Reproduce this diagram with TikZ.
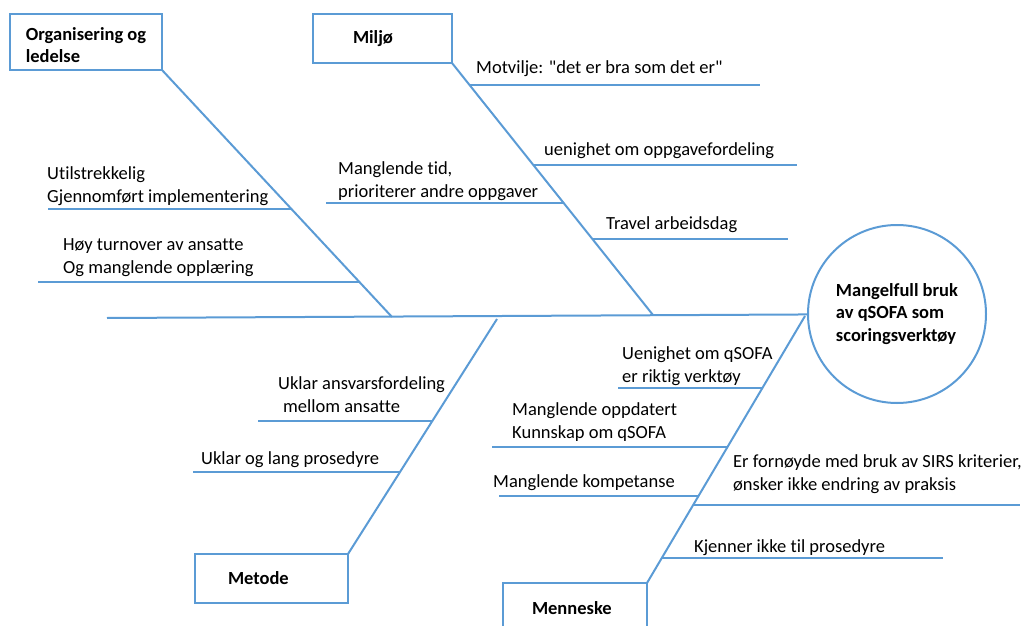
\documentclass[tikz,border=0pt]{standalone}
\usepackage{fontspec}
\setmainfont{Carlito}[Ligatures={TeXOff,CommonOff}]
\usetikzlibrary{calc}

\definecolor{fishblue}{RGB}{91,155,213}

\tikzset{
  bone/.style = {draw=fishblue, line width=2pt},
  catbox/.style = {draw=fishblue, line width=2pt, outer sep=0pt,
    font=\fontsize{18.5}{22.5}\selectfont\bfseries, align=left,
    anchor=north west, inner ysep=0pt},
  cause/.style = {font=\fontsize{18.5}{22.5}\selectfont, align=left,
    anchor=base west, inner sep=0pt}
}

\begin{document}
\begin{tikzpicture}[x=1pt, y=-1pt]
  \clip (0,0) rectangle (1026,626);

  % head and spine
  \node[circle, draw=fishblue, line width=2pt, outer sep=0pt, minimum size=178pt,
        font=\fontsize{18.5}{22.5}\selectfont\bfseries, align=left]
        (effect) at (897,314) {Mangelfull bruk\\av qSOFA som\\scoringsverktøy};
  \coordinate (tail) at (107,318);
  \draw[bone] (tail) -- (effect);

  % categories
  \node[catbox, minimum height=56pt, minimum width=152pt, inner xsep=12pt]
        (org) at (10,14) {\rule{0pt}{19pt}Organisering og\\ledelse};
  \node[catbox, minimum height=49pt, text width=59pt, inner xsep=40pt]
        (miljo) at (313,14) {Miljø};
  \node[catbox, minimum height=49pt, text width=87pt, inner xsep=33pt]
        (metode) at (195,554) {Metode};
  \node[catbox, minimum height=50pt, text width=86pt, inner xsep=29pt]
        (menneske) at (503,583) {Menneske};

  \coordinate (orgj) at (392,317);
  \coordinate (miljoj) at (653,315);
  \coordinate (metj) at (497,319);
  \coordinate (menj) at (805,316);

  \draw[bone] (org.south east) -- (orgj);
  \draw[bone] (miljo.south east) -- (miljoj);
  \draw[bone] (metode.north east) -- (metj);
  \draw[bone] (menneske.north east) -- (menj);

  % Miljø
  \draw[bone] ($(miljo.south east)!.087!(miljoj)$) -- ++(291,0);
  \draw[bone] ($(miljo.south east)!.405!(miljoj)$) -- ++(264,0);
  \draw[bone] ($(miljo.south east)!.556!(miljoj)$) -- ++(-238,0);
  \draw[bone] ($(miljo.south east)!.698!(miljoj)$) -- ++(196,0);
  \node[cause] (motvilje) at (476,74) {Motvilje: "det er bra som det er"};
  \node[cause] (uenighet) at (544,155) {uenighet om oppgavefordeling};
  \node[cause] (tid) at (338,197) {Manglende tid,\\prioriterer andre oppgaver};
  \node[cause] (travel) at (606,229) {Travel arbeidsdag};

  % Organisering og ledelse
  \draw[bone] ($(org.south east)!.563!(orgj)$) -- ++(-243,0);
  \draw[bone] ($(org.south east)!.858!(orgj)$) -- ++(-321,0);
  \node[cause] (utilstr) at (47,202) {Utilstrekkelig\\Gjennomført implementering};
  \node[cause] (turnover) at (63,273) {Høy turnover av ansatte\\Og manglende opplæring};

  % Metode
  \draw[bone] ($(metode.north east)!.568!(metj)$) -- ++(-175,0);
  \draw[bone] ($(metode.north east)!.350!(metj)$) -- ++(-207,0);
  \node[cause] (ansvar) at (278,412) {Uklar ansvarsfordeling\\\hspace*{5pt}mellom ansatte};
  \node[cause] (prosedyre) at (201,464) {Uklar og lang prosedyre};

  % Menneske
  \draw[bone] ($(menneske.north east)!.729!(menj)$) -- ++(-144,0);
  \draw[bone] ($(menneske.north east)!.511!(menj)$) -- ++(-236,0);
  \draw[bone] ($(menneske.north east)!.327!(menj)$) -- ++(-200,0);
  \draw[bone] ($(menneske.north east)!.293!(menj)$) -- ++(327,0);
  \draw[bone] ($(menneske.north east)!.094!(menj)$) -- ++(281,0);
  \node[cause] (qsofa) at (622,382) {Uenighet om qSOFA\\er riktig verktøy};
  \node[cause] (kunnskap) at (512,438) {Manglende oppdatert\\Kunnskap om qSOFA};
  \node[cause] (kompetanse) at (493,487) {Manglende kompetanse};
  \node[cause] (sirs) at (733,490) {Er fornøyde med bruk av SIRS kriterier,\\ønsker ikke endring av praksis};
  \node[cause] (kjenner) at (694,552) {Kjenner ikke til prosedyre};
\end{tikzpicture}
\end{document}
